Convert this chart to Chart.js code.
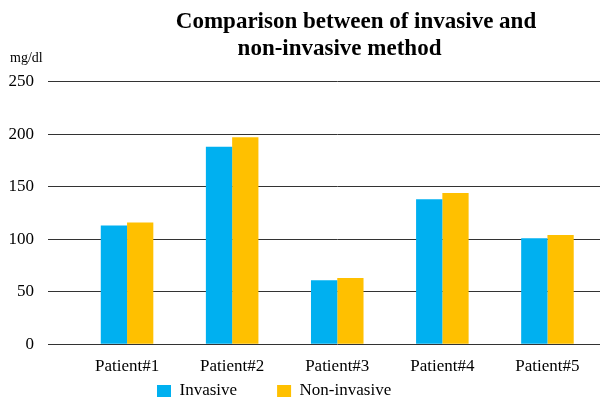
<!DOCTYPE html>
<html>
<head>
<meta charset="utf-8">
<script src="https://cdn.jsdelivr.net/npm/chart.js@4/dist/chart.umd.min.js"></script>
<style>
  html, body { margin: 0; padding: 0; background: #fff; }
  #wrap { width: 602px; height: 401px; }
</style>
</head>
<body>
<div id="wrap"><canvas id="c" width="602" height="401"></canvas></div>
<script>
// Glucose readings per patient (mg/dl)
const categories = ['Patient#1', 'Patient#2', 'Patient#3', 'Patient#4', 'Patient#5'];
const invasive = [113, 188, 61, 138, 101];
const nonInvasive = [116, 197, 63, 144, 104];
const yTicks = [0, 50, 100, 150, 200, 250];
const seriesNames = ['Invasive', 'Non-invasive'];
const titleLines = ['Comparison between of invasive and', 'non-invasive method'];
const unitLabel = 'mg/dl';

const SERIF = "'Liberation Serif', 'Times New Roman', serif";
const GRID = '#333333';

// Fine placement of the heading lines, the legend row and the unit label
const placement = {
  id: 'placement',
  afterLayout(chart) {
    const TitleEl = Chart.Title._element;
    chart.boxes.forEach(b => {
      if (!(b instanceof TitleEl)) return;
      const cx = b.options.text === titleLines[0] ? 356 : 339.5;
      b.left = 2 * cx - b.right;
      b.width = b.right - b.left;
    });
    const lg = chart.legend;
    const pad = lg.options.labels.padding;
    lg.left = 157 - pad;
    lg.right = 602;
    lg.top = 382.5 - pad;
    lg.bottom = 401;
    lg.width = lg.right - lg.left;
    lg.height = lg.bottom - lg.top;
  },
  afterDraw(chart) {
    const ctx = chart.ctx;
    ctx.save();
    ctx.font = '14px ' + SERIF;
    ctx.fillStyle = '#000';
    ctx.textAlign = 'left';
    ctx.textBaseline = 'alphabetic';
    ctx.fillText(unitLabel, 10, 62);
    ctx.restore();
  }
};

new Chart(document.getElementById('c'), {
  type: 'bar',
  data: {
    labels: categories,
    datasets: [
      { label: seriesNames[0], data: invasive, backgroundColor: '#00B0F0' },
      { label: seriesNames[1], data: nonInvasive, backgroundColor: '#FFC000' }
    ]
  },
  options: {
    responsive: false,
    animation: false,
    devicePixelRatio: 1,
    layout: { padding: { left: 0, right: 2, top: 0, bottom: 0 } },
    datasets: { bar: { categoryPercentage: 0.5, barPercentage: 1.0 } },
    plugins: {
      title: {
        display: true,
        text: titleLines[0],
        color: '#000',
        font: { family: SERIF, size: 23, weight: 'bold', lineHeight: '27px' },
        padding: { top: 8.5, bottom: 0 }
      },
      subtitle: {
        display: true,
        text: titleLines[1],
        color: '#000',
        font: { family: SERIF, size: 23, weight: 'bold', lineHeight: '27px' },
        padding: { top: 0, bottom: 19.2 }
      },
      legend: {
        position: 'bottom',
        align: 'start',
        maxHeight: 12.4,
        labels: {
          color: '#000',
          font: { family: SERIF, size: 17 },
          boxWidth: 14,
          boxHeight: 12,
          padding: 40
        }
      },
      tooltip: { enabled: false }
    },
    scales: {
      x: {
        grid: { display: false, drawTicks: false },
        border: { display: false },
        ticks: { color: '#000', font: { family: SERIF, size: 17 }, padding: 12 }
      },
      y: {
        min: 0,
        max: 250,
        afterBuildTicks: s => { s.ticks = yTicks.map(v => ({ value: v })); },
        afterFit: s => { s.width = 74.5; },
        grid: { color: GRID, lineWidth: 1, drawTicks: true, tickLength: 26.5, tickColor: GRID },
        border: { display: false },
        ticks: { color: '#000', font: { family: SERIF, size: 17 }, padding: 14 }
      }
    }
  },
  plugins: [placement]
});
</script>
</body>
</html>
